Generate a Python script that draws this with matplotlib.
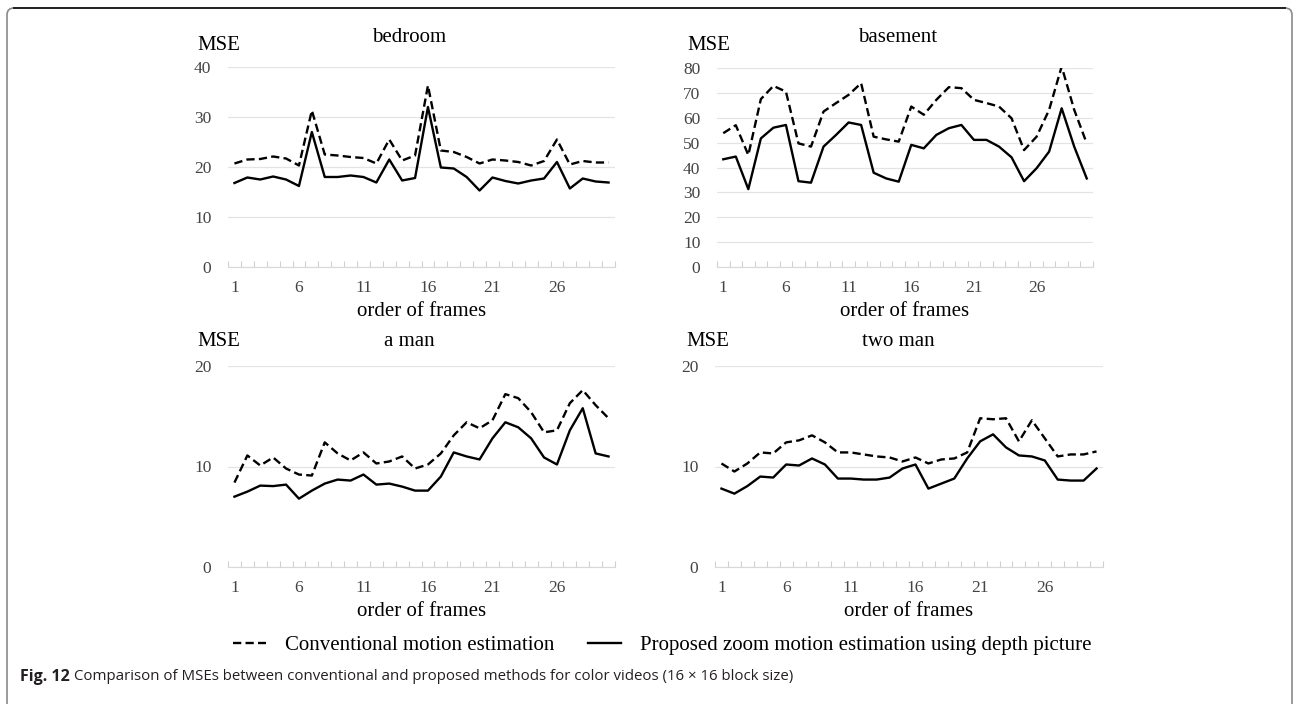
import numpy as np
import matplotlib.pyplot as plt
from matplotlib.patches import FancyBboxPatch
from matplotlib.lines import Line2D
from matplotlib.text import Annotation

frames = np.arange(1, 31)
xtick_labels = [1, 6, 11, 16, 21, 26]

# MSE per frame
bedroom_conv = [20.7, 21.5, 21.6, 22.1, 21.7, 20.3, 31.3, 22.5, 22.3, 22.0,
                21.8, 20.7, 25.5, 21.3, 22.3, 36.3, 23.3, 23.0, 22.0, 20.7,
                21.5, 21.3, 21.0, 20.3, 21.2, 25.5, 20.5, 21.2, 20.9, 20.9]
bedroom_prop = [16.8, 17.9, 17.5, 18.1, 17.5, 16.2, 27.0, 18.0, 18.0, 18.3,
                18.0, 16.9, 21.5, 17.3, 17.8, 32.0, 19.9, 19.7, 18.0, 15.3,
                17.9, 17.2, 16.7, 17.3, 17.7, 21.0, 15.7, 17.7, 17.1, 16.9]
basement_conv = [53.8, 57.0, 45.0, 67.5, 72.8, 70.5, 49.7, 48.4, 62.5, 65.9,
                 69.2, 73.9, 52.4, 51.3, 50.4, 64.5, 61.2, 67.2, 72.3, 71.9,
                 67.2, 65.9, 64.5, 59.8, 47.0, 52.4, 63.2, 80.6, 63.2, 49.7]
basement_prop = [43.3, 44.4, 31.3, 51.7, 56.0, 57.1, 34.5, 33.9, 48.4, 53.1,
                 58.1, 57.1, 37.9, 35.6, 34.3, 49.1, 47.7, 53.1, 55.8, 57.1,
                 51.1, 51.1, 48.4, 44.1, 34.5, 39.7, 46.4, 63.8, 48.4, 35.6]
aman_conv = [8.4, 11.1, 10.1, 10.9, 9.8, 9.2, 9.1, 12.4, 11.3, 10.6,
             11.4, 10.3, 10.5, 11.0, 9.8, 10.2, 11.3, 13.1, 14.4, 13.8,
             14.6, 17.2, 16.8, 15.4, 13.4, 13.6, 16.3, 17.6, 16.1, 14.8]
aman_prop = [7.0, 7.5, 8.1, 8.05, 8.2, 6.8, 7.6, 8.3, 8.7, 8.6,
             9.2, 8.2, 8.3, 8.0, 7.6, 7.6, 9.0, 11.4, 11.0, 10.7,
             12.8, 14.4, 13.9, 12.8, 10.9, 10.2, 13.6, 15.8, 11.3, 11.0]
twoman_conv = [10.3, 9.5, 10.3, 11.4, 11.3, 12.4, 12.6, 13.1, 12.4, 11.4,
               11.4, 11.2, 11.0, 10.9, 10.5, 10.9, 10.3, 10.7, 10.8, 11.4,
               14.8, 14.7, 14.8, 12.5, 14.6, 12.8, 11.0, 11.2, 11.2, 11.5]
twoman_prop = [7.8, 7.3, 8.05, 9.0, 8.9, 10.2, 10.1, 10.8, 10.2, 8.8,
               8.8, 8.7, 8.7, 8.9, 9.8, 10.2, 7.8, 8.3, 8.8, 10.8,
               12.5, 13.2, 11.9, 11.1, 11.0, 10.6, 8.7, 8.6, 8.6, 9.8]

titles = ["bedroom", "basement", "a man", "two man"]
conv = [bedroom_conv, basement_conv, aman_conv, twoman_conv]
prop = [bedroom_prop, basement_prop, aman_prop, twoman_prop]
ymax = [40, 80, 20, 20]
ystep = [10, 10, 10, 10]

W, H = 1294, 704
serif = "Liberation Serif"
fig = plt.figure(figsize=(W / 100, H / 100), dpi=100)

# axes boxes in pixels: left, top, right, bottom
boxes = [(228, 67, 615, 267), (717, 68, 1093, 267),
         (228, 366, 615, 567), (715, 366, 1103, 567)]
mse_x = [197, 687, 197, 686]
mse_y = [45, 45, 341, 341]
title_x = [409, 898, 409, 898]
title_y = [37, 37, 341, 341]

dash = (0, (3.5, 1.8))
for i in range(4):
    l, t, r, b = boxes[i]
    ax = fig.add_axes([l / W, 1 - b / H, (r - l) / W, (b - t) / H])
    ax.plot(frames, conv[i], color="black", lw=1.7, linestyle=dash)
    ax.plot(frames, prop[i], color="black", lw=1.7)
    ax.set_xlim(0.5, 30.5)
    ax.set_ylim(0, ymax[i])
    ax.set_yticks(np.arange(0, ymax[i] + 1, ystep[i]))
    ax.set_xticks(xtick_labels)
    ax.set_xticks(np.arange(0.5, 31, 1), minor=True)
    ax.grid(axis="y", color="#e4e4e4", lw=0.9)
    ax.set_axisbelow(True)
    for s in ["top", "right", "left"]:
        ax.spines[s].set_visible(False)
    ax.spines["bottom"].set_color("#d9d9d9")
    ax.tick_params(axis="x", which="major", length=0, pad=9,
                   labelsize=12.5, labelcolor="#444444")
    ax.tick_params(axis="x", which="minor", direction="in", length=4,
                   color="#d0d0d0", width=0.8)
    ax.tick_params(axis="y", length=0, pad=12, labelsize=12.5,
                   labelcolor="#444444")
    for lab in ax.get_xticklabels() + ax.get_yticklabels():
        lab.set_fontfamily(serif)
    ax.set_xlabel("order of frames", fontsize=15, family=serif, labelpad=5)
    fig.text(mse_x[i] / W, 1 - mse_y[i] / H, "MSE", fontsize=15,
             family=serif, va="center", ha="left")
    fig.text(title_x[i] / W, 1 - title_y[i] / H, titles[i],
             fontsize=15, family=serif, va="center", ha="center")

handles = [Line2D([], [], color="black", lw=1.7, linestyle=dash),
           Line2D([], [], color="black", lw=1.7)]
fig.legend(handles, ["Conventional motion estimation",
                     "Proposed zoom motion estimation using depth picture"],
           loc="center", bbox_to_anchor=(662 / W, 1 - 645 / H), ncol=2,
           frameon=False, handlelength=1.6, handletextpad=0.9,
           columnspacing=1.6, prop={"family": serif, "size": 15})

cap_font = "Open Sans"
t1 = fig.text(20 / W, 1 - 677 / H, "Fig. 12", fontsize=11.5, weight="bold",
              family=cap_font, va="center", color="#231f20")
fig.add_artist(Annotation(
    "Comparison of MSEs between conventional and proposed methods "
    "for color videos (16 \u00d7 16 block size)",
    xy=(1, 0.5), xycoords=t1, xytext=(3, 0), textcoords="offset points",
    va="center", ha="left", fontsize=10.8, family=cap_font,
    color="#231f20"))

# page frame around the figure
frame = FancyBboxPatch((0.07, -0.2), 12.85, 7.16,
                       boxstyle="round,pad=0,rounding_size=0.07",
                       transform=fig.dpi_scale_trans, fill=False,
                       edgecolor="#8a8a8a", lw=1.2)
fig.add_artist(frame)
fig.add_artist(Line2D([0.14 / 12.94, 12.85 / 12.94], [1 - 8 / H, 1 - 8 / H],
                      transform=fig.transFigure, color="#222222", lw=1.4))

fig.savefig("out.png", dpi=100)
